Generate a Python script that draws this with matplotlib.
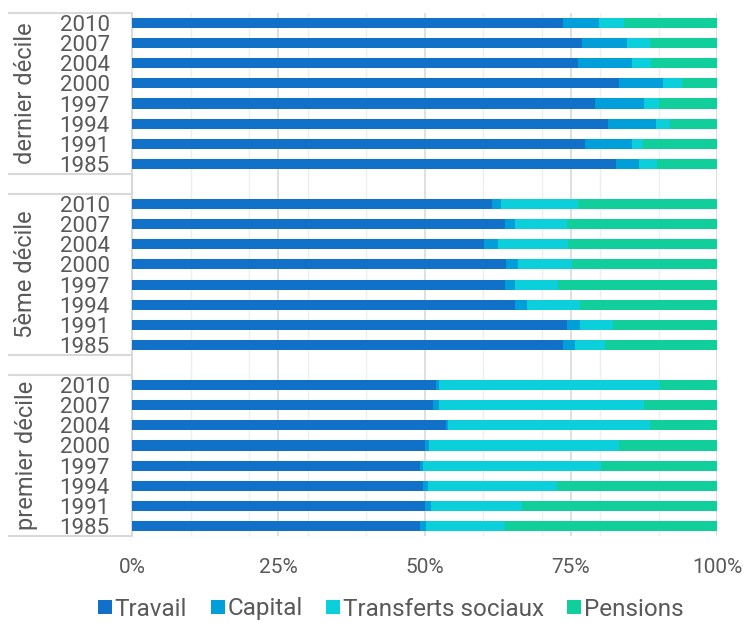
import matplotlib
matplotlib.use("Agg")
import matplotlib.pyplot as plt
import matplotlib.transforms as mtransforms
from matplotlib.lines import Line2D
import numpy as np

plt.rcParams['font.family'] = ['Roboto', 'DejaVu Sans']

# data (parts du revenu, %), years listed top to bottom in each group
years = ["2010", "2007", "2004", "2000", "1997", "1994", "1991", "1985"]
groups = ["dernier décile", "5ème décile", "premier décile"]
series = ["Travail", "Capital", "Transferts sociaux", "Pensions"]

travail = [
    [73.6, 77.0, 76.3, 83.2, 79.1, 81.3, 77.5, 82.8],
    [61.6, 63.8, 60.2, 64.0, 63.8, 65.4, 74.4, 73.7],
    [52.0, 51.4, 53.7, 50.0, 49.2, 49.7, 50.0, 49.2],
]
capital = [
    [6.2, 7.6, 9.1, 7.6, 8.5, 8.3, 7.9, 3.8],
    [1.4, 1.7, 2.4, 1.9, 1.6, 2.2, 2.1, 2.1],
    [0.4, 1.1, 0.4, 0.8, 0.5, 0.9, 1.1, 1.0],
]
transferts = [
    [4.3, 4.0, 3.4, 3.3, 2.4, 2.3, 1.9, 3.1],
    [13.2, 8.8, 11.9, 9.3, 7.4, 8.9, 5.7, 5.0],
    [37.8, 35.0, 34.5, 32.5, 30.5, 22.1, 15.6, 13.6],
]
pensions = [
    [15.9, 11.4, 11.2, 5.9, 10.0, 8.1, 12.7, 10.3],
    [23.8, 25.7, 25.5, 24.8, 27.2, 23.5, 17.8, 19.2],
    [9.8, 12.5, 11.4, 16.7, 19.8, 27.3, 33.3, 36.2],
]

colors = ["#1170C8", "#009FD9", "#0BCFDA", "#11CF9A"]
text_col = "#595959"
line_col = "#d9d9d9"

W, H = 747, 623
fig = plt.figure(figsize=(W / 100, H / 100), dpi=100)
ax = fig.add_axes([132 / W, 1 - 536 / H, 585 / W, 523 / H])

n = len(years)
step = n + 1
ypos, ylabels = [], []
for g in range(len(groups)):
    pos = np.arange(n) + g * step
    left = np.zeros(n)
    for s, vals in enumerate([travail, capital, transferts, pensions]):
        v = np.array(vals[g])
        ax.barh(pos, v, left=left, height=0.5, color=colors[s], linewidth=0, zorder=3)
        left += v
    ypos += list(pos)
    ylabels += years

ax.set_xlim(0, 100)
ax.set_ylim(len(groups) * step - 1.5, -0.5)

ax.set_xticks([0, 25, 50, 75, 100], ["0%", "25%", "50%", "75%", "100%"])
ax.set_xticks([10, 20, 30, 40, 60, 70, 80, 90], minor=True)
ax.grid(axis='x', which='major', color=line_col, linewidth=1.2, zorder=0)
ax.grid(axis='x', which='minor', color="#eeeeee", linewidth=1.0, zorder=0)
ax.set_yticks(ypos, ylabels)
ax.tick_params(axis='y', length=0, pad=16, labelsize=16, labelcolor=text_col)
ax.tick_params(axis='x', which='both', length=0, pad=16, labelsize=15, labelcolor=text_col)

for side in ["top", "right", "bottom"]:
    ax.spines[side].set_visible(False)
ax.spines["left"].set_color(line_col)
ax.spines["left"].set_linewidth(1.5)

# group labels and separators on the left
trans = mtransforms.blended_transform_factory(fig.transFigure, ax.transData)
for g, name in enumerate(groups):
    center = g * step + (n - 1) / 2
    ax.text(26 / W, center, name, transform=trans, rotation=90, ha='center', va='center',
            fontsize=17, color=text_col)
sep = [-0.5, n - 0.5, n + 0.5, 2 * n + 0.5, 2 * n + 1.5, 3 * n + 1.5]
for y in sep:
    ax.add_line(Line2D([9 / W, 131 / W], [y, y], transform=trans, color=line_col,
                       linewidth=1.5, clip_on=False))

handles = [Line2D([], [], marker='s', linestyle='none', markersize=10,
                  markerfacecolor=c, markeredgewidth=0) for c in colors]
fig.legend(handles, series, loc='center', bbox_to_anchor=(390 / W, 1 - 609 / H), ncol=4,
           frameon=False, fontsize=17.5, handletextpad=0.05, columnspacing=0.9,
           labelcolor=text_col, handlelength=0.7)

fig.savefig("out.png", dpi=100)
